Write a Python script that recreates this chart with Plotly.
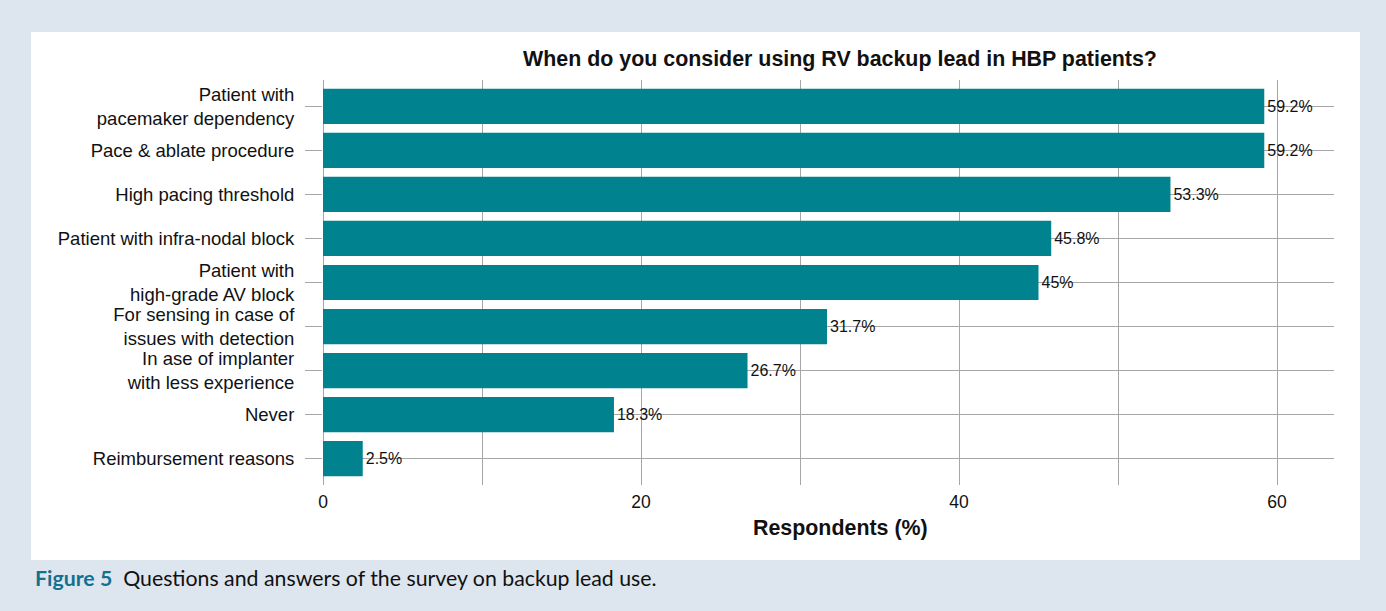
import plotly.graph_objects as go

categories = [
    "Patient with<br>pacemaker dependency",
    "Pace & ablate procedure",
    "High pacing threshold",
    "Patient with infra-nodal block",
    "Patient with<br>high-grade AV block",
    "For sensing in case of<br>issues with detection",
    "In ase of implanter<br>with less experience",
    "Never",
    "Reimbursement reasons",
]
values = [59.2, 59.2, 53.3, 45.8, 45, 31.7, 26.7, 18.3, 2.5]
x_tickvals = [0, 10, 20, 30, 40, 50, 60]
x_ticktext = ["0", "", "20", "", "40", "", "60"]

W, H = 1386, 611
L, R, T, B = 323, 1386 - 1334, 80, 611 - 485
pw, ph = W - L - R, H - T - B

def px_x(p):
    return (p - L) / pw

def px_y(p):
    return (H - B - p) / ph

grid = "#a6a6a6"
fig = go.Figure(go.Bar(
    x=values, y=categories, orientation="h",
    marker=dict(color="#00838f", line=dict(width=0)),
    text=values, texttemplate="%{x}%", textposition="outside",
    textfont=dict(size=16, color="#111", family="Liberation Sans, Arial"),
    cliponaxis=False,
))

fig.update_layout(
    width=W, height=H,
    margin=dict(l=L, r=R, t=T, b=B, pad=0),
    paper_bgcolor="#dde6ef",
    plot_bgcolor="white",
    bargap=0.2,
    showlegend=False,
    font=dict(family="Liberation Sans, Arial", color="#111"),
    title=dict(text="<b>When do you consider using RV backup lead in HBP patients?</b>",
               x=840 / W, xanchor="center", y=1 - 59 / H, yanchor="middle",
               font=dict(size=21.4, color="#111")),
    xaxis=dict(range=[0, (1334 - 323) / 15.9], tickvals=x_tickvals, ticktext=x_ticktext,
               showgrid=True, gridcolor=grid, gridwidth=1,
               zeroline=True, zerolinecolor=grid, zerolinewidth=1,
               ticks="", ticklabelstandoff=4, tickfont=dict(size=17.5, color="#111")),
    yaxis=dict(categoryorder="array", categoryarray=categories,
               range=[8.6, -0.6],
               showgrid=True, gridcolor=grid, gridwidth=1,
               ticks="outside", ticklen=17, tickcolor=grid,
               ticklabelstandoff=7,
               tickfont=dict(size=18.5, color="#111")),
    shapes=[dict(type="rect", xref="paper", yref="paper", layer="below",
                 x0=px_x(31), x1=px_x(1360), y0=px_y(560), y1=px_y(32),
                 fillcolor="white", line=dict(width=0))],
    annotations=[
        dict(xref="paper", yref="paper", x=px_x(840), y=px_y(528),
             xanchor="center", yanchor="middle", showarrow=False,
             text="<b>Respondents (%)</b>",
             font=dict(size=21.4, color="#111")),
        dict(xref="paper", yref="paper", x=px_x(33), y=px_y(578),
             xanchor="left", yanchor="middle", showarrow=False,
             text="<b><span style='color:#14708f'>Figure 5</span></b>  Questions and answers of the survey on backup lead use.",
             font=dict(size=21.3, family="Lato, Open Sans", color="#111")),
    ],
)

fig.write_html("out.html")
